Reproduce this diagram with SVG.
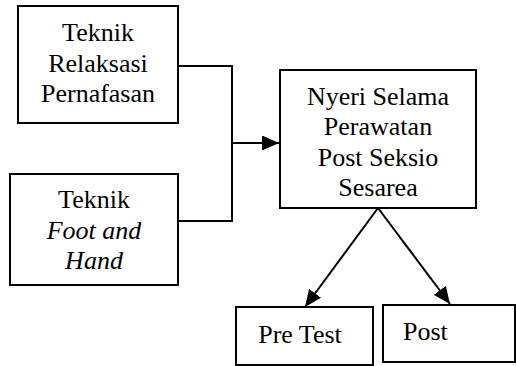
<svg xmlns="http://www.w3.org/2000/svg" width="516" height="366" viewBox="0 0 516 366">
<style>
.box{fill:#fff;stroke:#000;stroke-width:2}
.t{font-family:"Liberation Serif","Times New Roman",serif;font-size:26px;fill:#000;text-anchor:middle}
.i{font-style:italic}
.c{fill:none;stroke:#000;stroke-width:2}
</style>
<defs>
<marker id="a2" viewBox="0 0 17 15" refX="17" refY="7.5" markerWidth="17" markerHeight="15" markerUnits="userSpaceOnUse" orient="auto">
<path d="M0,0 L17,7.5 L0,15 Z" fill="#000"/>
</marker>
</defs>
<rect width="516" height="366" fill="#fff"/>
<g id="connectors">
<polyline class="c" points="178,66 232,66 232,221 178,221"/>
<line class="c" x1="232" y1="143" x2="279" y2="143" marker-end="url(#a2)"/>
<line class="c" x1="378" y1="208" x2="305" y2="307" marker-end="url(#a2)"/>
<line class="c" x1="378" y1="208" x2="450" y2="304" marker-end="url(#a2)"/>
</g>
<g id="teknik-relaksasi">
<rect class="box" x="18" y="6" width="160" height="117"/>
<text class="t" x="98" y="41">Teknik</text>
<text class="t" x="98" y="72">Relaksasi</text>
<text class="t" x="98" y="102">Pernafasan</text>
</g>
<g id="teknik-foot">
<rect class="box" x="10" y="174" width="168" height="111"/>
<text class="t" x="94" y="208">Teknik</text>
<text class="t i" x="94" y="239">Foot and</text>
<text class="t i" x="94" y="269">Hand</text>
</g>
<g id="nyeri">
<rect class="box" x="280" y="70" width="196" height="138"/>
<text class="t" x="378" y="105">Nyeri Selama</text>
<text class="t" x="378" y="135">Perawatan</text>
<text class="t" x="378" y="166">Post Seksio</text>
<text class="t" x="378" y="196">Sesarea</text>
</g>
<g id="pre-test">
<rect class="box" x="236" y="307" width="137" height="58"/>
<text class="t" x="300" y="343">Pre Test</text>
</g>
<g id="post">
<rect class="box" x="383" y="305" width="132" height="57"/>
<text class="t" x="403" y="340" style="text-anchor:start">Post</text>
</g>
</svg>
